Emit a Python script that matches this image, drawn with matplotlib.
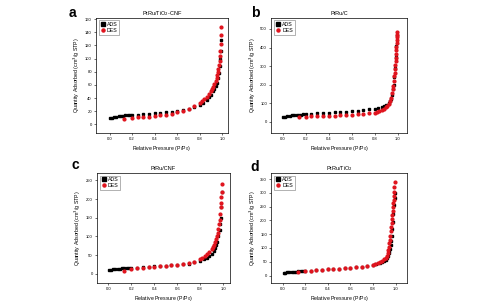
import matplotlib
matplotlib.use("Agg")
import matplotlib.pyplot as plt

# ---- data ----
# panel a: PtRu/TiO2-CNF
a_ads_x = [0.005, 0.02, 0.04, 0.06, 0.08, 0.10, 0.12, 0.14, 0.16, 0.18, 0.20,
           0.25, 0.30, 0.35, 0.40, 0.45, 0.50, 0.55, 0.60, 0.65, 0.70, 0.75,
           0.80, 0.83, 0.86, 0.88, 0.90, 0.92, 0.93, 0.94, 0.95, 0.96, 0.97,
           0.975, 0.98, 0.985, 0.99]
a_ads_y = [9, 10, 11, 11.5, 12, 12.5, 13, 13.5, 13.8, 14, 14.3,
           14.8, 15.3, 16, 16.5, 17.2, 18, 19, 20, 21.5, 23, 26,
           30, 33, 37, 41, 45, 50, 54, 58, 63, 70, 78,
           88, 100, 112, 128]
a_des_x = [0.99, 0.988, 0.985, 0.982, 0.98, 0.975, 0.97, 0.965, 0.96, 0.955,
           0.95, 0.94, 0.93, 0.92, 0.91, 0.90, 0.88, 0.86, 0.84, 0.82, 0.80,
           0.75, 0.70, 0.65, 0.60, 0.55, 0.50, 0.45, 0.40, 0.35, 0.30, 0.25,
           0.20, 0.13]
a_des_y = [148, 136, 122, 112, 104, 96, 90, 84, 79, 75,
           71, 66, 61, 57, 54, 51, 46, 42, 38, 35, 32,
           28, 24, 20.5, 18, 16, 14.5, 13.5, 12.5, 11.5, 11, 10.5,
           10, 8]

# panel b: PtRu/C
b_ads_x = [0.005, 0.02, 0.04, 0.06, 0.08, 0.10, 0.12, 0.14, 0.16, 0.18, 0.20,
           0.25, 0.30, 0.35, 0.40, 0.45, 0.50, 0.55, 0.60, 0.65, 0.70, 0.75,
           0.80, 0.83, 0.86, 0.88, 0.90, 0.92, 0.93, 0.94, 0.95, 0.96, 0.965,
           0.97, 0.975, 0.98, 0.985, 0.99]
b_ads_y = [25, 28, 31, 33, 35, 36, 37, 38, 39, 40, 41,
           43, 45, 47, 49, 51, 53, 55, 57, 60, 63, 66,
           70, 74, 79, 84, 90, 100, 110, 125, 145, 175, 200,
           240, 290, 350, 410, 470]
b_des_x = [0.99, 0.99, 0.99, 0.99, 0.99, 0.988, 0.986, 0.984, 0.982, 0.98,
           0.978, 0.975, 0.972, 0.97, 0.965, 0.96, 0.955, 0.95, 0.94, 0.93,
           0.92, 0.91, 0.90, 0.88, 0.86, 0.84, 0.82, 0.80, 0.75, 0.70, 0.65,
           0.60, 0.55, 0.50, 0.45, 0.40, 0.35, 0.30, 0.25, 0.20, 0.14]
b_des_y = [485, 470, 455, 440, 425, 405, 385, 365, 345, 325,
           305, 285, 265, 245, 220, 195, 175, 155, 130, 112,
           98, 87, 78, 68, 61, 56, 52, 49, 45, 42, 40,
           38, 36.5, 35, 33.5, 32, 31, 30, 28.5, 27, 25]

# panel c: PtRu/CNF
c_ads_x = [0.005, 0.02, 0.04, 0.06, 0.08, 0.10, 0.12, 0.14, 0.16, 0.18, 0.20,
           0.25, 0.30, 0.35, 0.40, 0.45, 0.50, 0.55, 0.60, 0.65, 0.70, 0.75,
           0.80, 0.83, 0.86, 0.88, 0.90, 0.92, 0.93, 0.94, 0.95, 0.96, 0.97,
           0.975, 0.98, 0.985, 0.99]
c_ads_y = [10, 11, 12, 12.5, 13, 13.5, 14, 14.5, 15, 15.3, 15.6,
           16.5, 17.5, 18.5, 19.3, 20, 21, 22, 23, 25, 27, 30,
           34, 38, 43, 48, 54, 62, 68, 76, 86, 100, 118,
           132, 150, 178, 220]
c_des_x = [0.99, 0.988, 0.985, 0.982, 0.98, 0.975, 0.97, 0.965, 0.96, 0.955,
           0.95, 0.94, 0.93, 0.92, 0.91, 0.90, 0.88, 0.86, 0.84, 0.82, 0.80,
           0.75, 0.70, 0.65, 0.60, 0.55, 0.50, 0.45, 0.40, 0.35, 0.30, 0.25,
           0.20, 0.14]
c_des_y = [240, 220, 205, 190, 178, 160, 145, 132, 120, 110,
           102, 92, 84, 77, 71, 66, 58, 52, 47, 42, 38,
           32, 28, 25.5, 23.5, 22, 21, 20, 19, 18, 16.5, 14.5,
           12, 6]

# panel d: PtRu/TiO2
d_ads_x = [0.01, 0.02, 0.04, 0.06, 0.08, 0.10, 0.12, 0.14, 0.16, 0.18, 0.20,
           0.25, 0.30, 0.35, 0.40, 0.45, 0.50, 0.55, 0.60, 0.65, 0.70, 0.75,
           0.80, 0.83, 0.86, 0.88, 0.90, 0.91, 0.92, 0.93, 0.94, 0.945, 0.95,
           0.955, 0.96, 0.965, 0.97, 0.975, 0.98, 0.985, 0.99, 0.995]
d_ads_y = [10, 11, 12, 13, 13.5, 14, 14.5, 15, 15.5, 16, 16.5,
           17.5, 19, 20.5, 22, 23.5, 25, 26.5, 28, 30, 32, 35,
           38, 41, 45, 49, 54, 58, 63, 70, 80, 88, 98,
           110, 125, 145, 170, 195, 225, 255, 280, 300]
d_des_x = [0.99, 0.988, 0.986, 0.984, 0.982, 0.98, 0.977, 0.974, 0.97, 0.967,
           0.964, 0.96, 0.956, 0.952, 0.948, 0.944, 0.94, 0.935, 0.93, 0.92,
           0.91, 0.90, 0.88, 0.86, 0.84, 0.82, 0.80, 0.75, 0.70, 0.65, 0.60,
           0.55, 0.50, 0.45, 0.40, 0.35, 0.30, 0.25, 0.20, 0.14]
d_des_y = [340, 320, 305, 290, 275, 262, 248, 235, 220, 205,
           190, 175, 160, 145, 130, 118, 105, 92, 82, 72,
           65, 60, 53, 48, 44, 41, 38, 35, 32, 30, 28,
           26.5, 25, 23.5, 22, 20.5, 19, 17.5, 16, 12]

panels = [
    ("a", "PtRu/TiO$_2$-CNF", a_ads_x, a_ads_y, a_des_x, a_des_y,
     (-0.12, 1.05), (-13, 162), [0, 20, 40, 60, 80, 100, 120, 140, 160]),
    ("b", "PtRu/C", b_ads_x, b_ads_y, b_des_x, b_des_y,
     (-0.1, 1.08), (-60, 560), [0, 100, 200, 300, 400, 500]),
    ("c", "PtRu/CNF", c_ads_x, c_ads_y, c_des_x, c_des_y,
     (-0.1, 1.06), (-25, 270), [0, 50, 100, 150, 200, 250]),
    ("d", "PtRu/TiO$_2$", d_ads_x, d_ads_y, d_des_x, d_des_y,
     (-0.1, 1.1), (-27, 372), [0, 50, 100, 150, 200, 250, 300, 350]),
]

positions = [
    [0.200, 0.560, 0.275, 0.381],
    [0.565, 0.560, 0.283, 0.381],
    [0.202, 0.063, 0.277, 0.364],
    [0.565, 0.063, 0.283, 0.364],
]
letter_pos = [(0.143, 0.958), (0.522, 0.958), (0.148, 0.452), (0.522, 0.448)]

fig = plt.figure(figsize=(4.8, 3.02), dpi=100)
plt.rcParams['font.family'] = ['Liberation Sans', 'DejaVu Sans']

for i, (letter, title, ax_x, ax_y, dx, dy, xl, yl, yt) in enumerate(panels):
    ax = fig.add_axes(positions[i])
    ax.plot(ax_x, ax_y, 's', color='black', markersize=2.0, label='ADS')
    ax.plot(dx, dy, 'o', color='#e0141e', markersize=2.0, label='DES')
    ax.set_xlim(*xl)
    ax.set_ylim(*yl)
    ax.set_xticks([0.0, 0.2, 0.4, 0.6, 0.8, 1.0])
    ax.set_yticks(yt)
    ax.tick_params(labelsize=3, length=1.5, width=0.4, pad=1.5)
    for s in ax.spines.values():
        s.set_linewidth(0.5)
    ax.set_title(title, fontsize=4, pad=2)
    ax.set_xlabel('Relative Pressure (P/P$_0$)', fontsize=3.8, labelpad=2)
    ax.set_ylabel('Quantity Adsorbed (cm$^3$/g STP)', fontsize=3.8, labelpad=2)
    leg = ax.legend(loc='upper left', fontsize=3.8, markerscale=1.1,
                    handletextpad=0.3, borderpad=0.3, labelspacing=0.2,
                    handlelength=1.0, fancybox=False, edgecolor='#555555')
    leg.get_frame().set_linewidth(0.4)
    fig.text(letter_pos[i][0], letter_pos[i][1], letter, fontsize=10,
             fontweight='bold', ha='left', va='center')

fig.savefig('out.png', dpi=100)
